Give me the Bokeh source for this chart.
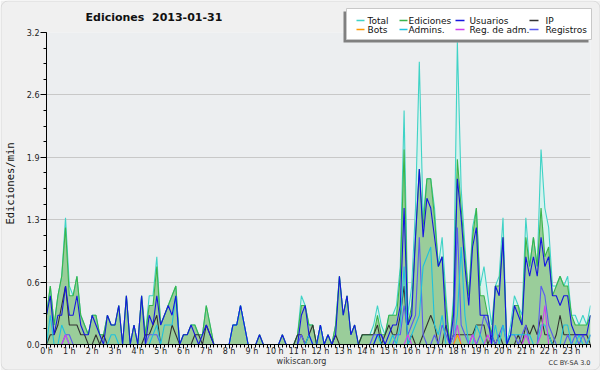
import math
from bokeh.plotting import figure
from bokeh.layouts import column
from bokeh.models import Range1d, FixedTicker, BoxAnnotation, ColumnDataSource, Plot
from bokeh.core.properties import value
from bokeh.embed import file_html
from bokeh.resources import INLINE

# ---------------- data (edits per minute, 10-minute bins, 2013-01-31) ----------------
bin_minutes = list(range(0, 1440, 10))
hour_ticks = list(range(24))
hour_labels = ["%d h" % h for h in hour_ticks]
y_ticks = [0.0, 0.64, 1.28, 1.92, 2.56, 3.2]
y_tick_labels = ["0.0", "0.6", "1.3", "1.9", "2.6", "3.2"]

total = [0.3,0.6,0.2,0.5,0.7,1.3,0.6,0.5,0.7,0.3,
         0.2,0.1,0.3,0.3,0.1,0.1,0.3,0.2,0.2,0.4,
         0.0,0.5,0.0,0.2,0.0,0.5,0.1,0.5,0.5,0.9,
         0.2,0.3,0.4,0.5,0.6,0.0,0.1,0.1,0.2,0.2,
         0.1,0.1,0.4,0.2,0.0,0.0,0.0,0.0,0.0,0.2,
         0.2,0.4,0.2,0.0,0.0,0.0,0.1,0.0,0.0,0.0,
         0.0,0.0,0.1,0.0,0.0,0.0,0.1,0.5,0.4,0.2,
         0.2,0.0,0.2,0.0,0.1,0.0,0.2,0.7,0.3,0.5,
         0.1,0.2,0.0,0.1,0.1,0.1,0.2,0.4,0.2,0.1,
         0.3,0.3,0.4,0.8,2.4,0.3,0.6,1.4,2.9,1.3,
         1.7,1.7,1.4,0.8,1.1,0.5,0.0,0.5,3.1,1.6,
         1.0,0.5,1.2,1.4,0.6,0.8,0.5,0.2,0.6,0.7,
         1.3,0.0,0.2,0.5,0.4,0.3,1.3,0.8,1.1,0.8,
         2.0,1.4,1.2,0.6,0.6,0.7,0.6,0.7,0.3,0.3,
         0.2,0.3,0.2,0.4]

ediciones = [0.3,0.6,0.2,0.5,0.7,1.2,0.5,0.5,0.7,0.3,
             0.2,0.1,0.3,0.3,0.1,0.1,0.3,0.2,0.2,0.4,
             0.0,0.5,0.0,0.2,0.0,0.5,0.1,0.4,0.4,0.8,
             0.2,0.3,0.4,0.5,0.6,0.0,0.1,0.1,0.2,0.2,
             0.1,0.1,0.4,0.2,0.0,0.0,0.0,0.0,0.0,0.2,
             0.2,0.4,0.2,0.0,0.0,0.0,0.1,0.0,0.0,0.0,
             0.0,0.0,0.1,0.0,0.0,0.0,0.1,0.4,0.4,0.2,
             0.2,0.0,0.2,0.0,0.1,0.0,0.2,0.7,0.3,0.5,
             0.1,0.2,0.0,0.1,0.1,0.1,0.1,0.3,0.1,0.1,
             0.3,0.3,0.3,0.7,2.0,0.2,0.4,1.1,1.8,1.2,
             1.7,1.7,1.3,0.8,0.9,0.4,0.0,0.4,1.9,1.4,
             0.9,0.5,1.1,1.4,0.5,0.5,0.3,0.1,0.6,0.6,
             1.1,0.0,0.1,0.4,0.4,0.2,1.1,0.8,1.1,0.8,
             1.4,0.9,1.0,0.5,0.6,0.7,0.6,0.6,0.3,0.2,
             0.2,0.2,0.2,0.3]

usuarios = [0.3,0.5,0.1,0.3,0.3,0.6,0.3,0.3,0.5,0.2,
            0.1,0.1,0.3,0.2,0.1,0.0,0.3,0.2,0.2,0.4,
            0.0,0.5,0.0,0.2,0.0,0.5,0.0,0.3,0.2,0.5,
            0.2,0.3,0.4,0.3,0.5,0.0,0.1,0.1,0.2,0.1,
            0.0,0.1,0.2,0.1,0.0,0.0,0.0,0.0,0.0,0.2,
            0.2,0.4,0.2,0.0,0.0,0.0,0.1,0.0,0.0,0.0,
            0.0,0.0,0.1,0.0,0.0,0.0,0.0,0.3,0.4,0.1,
            0.0,0.0,0.2,0.0,0.1,0.0,0.1,0.7,0.3,0.5,
            0.1,0.2,0.0,0.0,0.0,0.0,0.0,0.1,0.1,0.0,
            0.1,0.2,0.2,0.4,1.4,0.2,0.3,1.1,1.8,1.1,
            1.5,1.4,1.1,0.8,0.9,0.2,0.0,0.3,1.7,1.3,
            0.8,0.4,1.0,1.2,0.3,0.3,0.3,0.0,0.6,0.5,
            1.1,0.0,0.1,0.4,0.3,0.2,0.9,0.7,0.9,0.7,
            1.1,0.8,0.9,0.5,0.5,0.4,0.5,0.5,0.2,0.1,
            0.1,0.1,0.1,0.3]

ip = [0.0,0.1,0.1,0.2,0.4,0.6,0.2,0.2,0.2,0.1,
      0.1,0.0,0.0,0.1,0.0,0.1,0.0,0.0,0.0,0.0,
      0.0,0.0,0.0,0.0,0.0,0.0,0.1,0.1,0.2,0.3,
      0.0,0.0,0.0,0.2,0.1,0.0,0.0,0.0,0.0,0.1,
      0.1,0.0,0.2,0.1,0.0,0.0,0.0,0.0,0.0,0.0,
      0.0,0.0,0.0,0.0,0.0,0.0,0.0,0.0,0.0,0.0,
      0.0,0.0,0.0,0.0,0.0,0.0,0.1,0.1,0.0,0.1,
      0.2,0.0,0.0,0.0,0.0,0.0,0.1,0.0,0.0,0.0,
      0.0,0.0,0.0,0.1,0.1,0.1,0.1,0.2,0.0,0.1,
      0.2,0.1,0.1,0.3,0.6,0.0,0.1,0.0,0.0,0.1,
      0.2,0.3,0.2,0.0,0.0,0.2,0.0,0.1,0.1,0.1,
      0.1,0.1,0.1,0.2,0.2,0.2,0.0,0.1,0.0,0.1,
      0.0,0.0,0.0,0.0,0.1,0.0,0.2,0.1,0.2,0.1,
      0.3,0.1,0.1,0.0,0.1,0.3,0.1,0.1,0.1,0.1,
      0.1,0.1,0.1,0.0]

bots = [0.0,0.0,0.0,0.0,0.0,0.0,0.0,0.0,0.0,0.0,
        0.0,0.0,0.0,0.0,0.0,0.0,0.0,0.0,0.0,0.0,
        0.0,0.0,0.0,0.0,0.0,0.0,0.0,0.0,0.0,0.0,
        0.0,0.0,0.0,0.0,0.0,0.0,0.0,0.0,0.0,0.0,
        0.0,0.0,0.0,0.0,0.0,0.0,0.0,0.0,0.0,0.0,
        0.0,0.0,0.0,0.0,0.0,0.0,0.0,0.0,0.0,0.0,
        0.0,0.0,0.0,0.0,0.0,0.0,0.0,0.0,0.0,0.0,
        0.0,0.0,0.0,0.0,0.0,0.0,0.0,0.0,0.0,0.0,
        0.0,0.0,0.0,0.0,0.0,0.0,0.0,0.0,0.0,0.0,
        0.0,0.0,0.0,0.0,0.0,0.0,0.0,0.0,0.0,0.0,
        0.0,0.0,0.0,0.0,0.0,0.0,0.0,0.0,0.1,0.0,
        0.0,0.0,0.0,0.0,0.0,0.0,0.0,0.0,0.0,0.0,
        0.0,0.0,0.0,0.0,0.0,0.0,0.0,0.0,0.0,0.0,
        0.0,0.0,0.0,0.0,0.0,0.0,0.0,0.0,0.0,0.0,
        0.0,0.0,0.0,0.0]

admins = [0.0,0.3,0.0,0.0,0.2,0.1,0.0,0.0,0.0,0.0,
          0.0,0.0,0.0,0.0,0.0,0.0,0.0,0.1,0.1,0.0,
          0.0,0.0,0.0,0.0,0.0,0.0,0.0,0.0,0.1,0.2,
          0.0,0.2,0.2,0.2,0.5,0.0,0.0,0.0,0.0,0.0,
          0.0,0.0,0.0,0.0,0.0,0.0,0.0,0.0,0.0,0.2,
          0.2,0.4,0.2,0.0,0.0,0.0,0.0,0.0,0.0,0.0,
          0.0,0.0,0.0,0.0,0.0,0.0,0.0,0.0,0.0,0.1,
          0.0,0.0,0.2,0.0,0.0,0.0,0.0,0.0,0.0,0.0,
          0.0,0.0,0.0,0.0,0.0,0.0,0.0,0.1,0.0,0.0,
          0.0,0.1,0.0,0.2,0.8,0.0,0.1,0.2,0.3,0.8,
          0.9,1.0,0.2,0.1,0.3,0.0,0.0,0.0,0.3,1.0,
          0.3,0.0,0.0,0.2,0.1,0.0,0.0,0.0,0.2,0.0,
          0.2,0.0,0.1,0.1,0.1,0.1,0.1,0.1,0.0,0.0,
          0.2,0.2,0.1,0.0,0.0,0.0,0.2,0.2,0.0,0.0,
          0.1,0.0,0.0,0.1]

reg_adm = [0.0,0.0,0.0,0.0,0.0,0.1,0.0,0.0,0.0,0.0,
           0.0,0.0,0.0,0.0,0.0,0.0,0.0,0.0,0.0,0.0,
           0.0,0.0,0.0,0.0,0.0,0.0,0.0,0.0,0.0,0.0,
           0.0,0.0,0.0,0.0,0.0,0.0,0.0,0.0,0.0,0.0,
           0.0,0.0,0.0,0.0,0.0,0.0,0.0,0.0,0.0,0.0,
           0.0,0.0,0.0,0.0,0.0,0.0,0.0,0.0,0.0,0.0,
           0.0,0.0,0.0,0.0,0.0,0.0,0.0,0.0,0.0,0.0,
           0.0,0.0,0.0,0.0,0.0,0.0,0.0,0.0,0.0,0.0,
           0.0,0.0,0.0,0.0,0.0,0.0,0.0,0.0,0.0,0.0,
           0.0,0.0,0.0,0.0,0.0,0.1,0.0,0.0,0.0,0.0,
           0.0,0.0,0.0,0.0,0.0,0.0,0.0,0.0,0.2,0.0,
           0.0,0.0,0.1,0.0,0.0,0.0,0.1,0.0,0.0,0.0,
           0.0,0.0,0.0,0.0,0.0,0.0,0.1,0.0,0.0,0.0,
           0.1,0.4,0.0,0.0,0.0,0.0,0.0,0.0,0.0,0.0,
           0.0,0.0,0.0,0.0]

registros = [0.0,0.0,0.0,0.0,0.0,0.1,0.1,0.0,0.0,0.0,
             0.0,0.0,0.0,0.0,0.0,0.0,0.0,0.0,0.0,0.0,
             0.0,0.0,0.0,0.0,0.0,0.0,0.0,0.1,0.1,0.1,
             0.0,0.0,0.0,0.0,0.0,0.0,0.0,0.0,0.0,0.0,
             0.0,0.0,0.0,0.0,0.0,0.0,0.0,0.0,0.0,0.0,
             0.0,0.0,0.0,0.0,0.0,0.0,0.0,0.0,0.0,0.0,
             0.0,0.0,0.0,0.0,0.0,0.0,0.0,0.1,0.0,0.0,
             0.0,0.0,0.0,0.0,0.0,0.0,0.0,0.0,0.0,0.0,
             0.0,0.0,0.0,0.0,0.0,0.0,0.1,0.1,0.1,0.0,
             0.0,0.0,0.1,0.1,0.4,0.1,0.2,0.3,1.1,0.1,
             0.0,0.0,0.1,0.0,0.2,0.1,0.0,0.1,1.2,0.2,
             0.1,0.0,0.1,0.0,0.1,0.3,0.2,0.1,0.0,0.1,
             0.2,0.0,0.1,0.1,0.0,0.1,0.2,0.0,0.0,0.0,
             0.6,0.5,0.2,0.1,0.0,0.0,0.0,0.1,0.0,0.1,
             0.0,0.1,0.0,0.1]

legend_names = ["Total", "Bots", "Ediciones", "Admins.", "Usuarios", "Reg. de adm.", "IP", "Registros"]
colors = {"Total": "#3fd3c6", "Ediciones": "#3bb54a", "Usuarios": "#1515e0", "IP": "#333333",
          "Bots": "#ff9900", "Admins.": "#1fc1dd", "Reg. de adm.": "#d040f0", "Registros": "#5a5af0"}

W, H = 600, 370

# ---------------- main chart ----------------
hours = [m / 60.0 for m in bin_minutes]
src = ColumnDataSource(dict(x=hours, total=total, ediciones=ediciones, usuarios=usuarios, ip=ip,
                            bots=bots, admins=admins, reg_adm=reg_adm, registros=registros))

p = figure(width=W, height=H, output_backend="svg", toolbar_location=None,
           x_range=Range1d(0, hours[-1]), y_range=Range1d(0, 3.2),
           min_border_left=46, min_border_right=10, min_border_top=32, min_border_bottom=26)
p.background_fill_color = "#eceef0"
p.border_fill_color = "#f0f0f0"
p.outline_line_color = None

xt = FixedTicker(ticks=hour_ticks, minor_ticks=hours)
p.xaxis.ticker = xt
p.xaxis.major_label_overrides = {h: lab for h, lab in zip(hour_ticks, hour_labels)}
yt = FixedTicker(ticks=y_ticks, minor_ticks=[k * 0.16 for k in range(21)])
p.yaxis.ticker = yt
p.yaxis.major_label_overrides = {v: lab for v, lab in zip(y_ticks, y_tick_labels)}
p.ygrid.ticker = yt
p.xgrid.grid_line_color = None
p.ygrid.grid_line_color = "#c8c8c8"
for ax in (p.xaxis[0], p.yaxis[0]):
    ax.axis_line_color = "black"
    ax.major_tick_line_color = "black"
    ax.minor_tick_line_color = "black"
    ax.major_tick_in = 0
    ax.minor_tick_in = 0
    ax.major_label_text_font = "DejaVu Sans"
    ax.major_label_text_font_size = "8px"
    ax.major_label_text_color = "#222222"
p.xaxis.major_tick_out = 4
p.xaxis.minor_tick_out = 3
p.xaxis.major_label_standoff = -2
p.yaxis.major_tick_out = 6
p.yaxis.minor_tick_out = 3
p.yaxis.major_label_standoff = 1

p.varea(x="x", y1=0, y2="total", source=src, fill_color="#d6f2ee")
p.varea(x="x", y1=0, y2="ediciones", source=src, fill_color="#9acd9a")
lw = 1.1
p.line("x", "total", source=src, line_color=colors["Total"], line_width=lw)
p.line("x", "ediciones", source=src, line_color=colors["Ediciones"], line_width=lw)
p.line("x", "ip", source=src, line_color=colors["IP"], line_width=lw)
p.line("x", "registros", source=src, line_color=colors["Registros"], line_width=lw)
p.line("x", "admins", source=src, line_color=colors["Admins."], line_width=lw)
p.line("x", "reg_adm", source=src, line_color=colors["Reg. de adm."], line_width=lw)
p.line("x", "bots", source=src, line_color=colors["Bots"], line_width=lw)
p.line("x", "usuarios", source=src, line_color=colors["Usuarios"], line_width=lw)

# ---------------- transparent overlay (pixel coordinates) for frame texts, legend, border ----------------
ov = figure(width=W, height=H, output_backend="svg", toolbar_location=None,
            x_range=Range1d(0, W), y_range=Range1d(H, 0), x_axis_type=None, y_axis_type=None,
            min_border=0, margin=(-H, 0, 0, 0))
if "frame_align" in Plot.properties():
    p.frame_align = False
    ov.frame_align = False
ov.background_fill_alpha = 0
ov.border_fill_alpha = 0
ov.outline_line_color = None
ov.xgrid.visible = False
ov.ygrid.visible = False

ov.add_layout(BoxAnnotation(left=0.5, right=W - 0.5, top=0.5, bottom=H - 0.5, fill_alpha=0,
                            line_color="#a8a8a8", line_width=1, border_radius=7))

ov.text(x=[85], y=[16.5], text=["Ediciones \u00a02013-01-31"], text_font=value("DejaVu Sans"),
        text_font_size="11px", text_font_style="bold", text_color="#111111",
        text_baseline="middle", text_align="left")
ov.text(x=[9], y=[183], text=["Ediciones/min"], angle=math.pi / 2, text_font=value("DejaVu Sans Mono"),
        text_font_size="10.5px", text_color="#111111", text_baseline="middle", text_align="center")
ov.text(x=[301], y=[361], text=["wikiscan.org"], text_font=value("DejaVu Sans"), text_font_size="8px",
        text_color="#333333", text_baseline="middle", text_align="center")
ov.text(x=[590], y=[362], text=["CC BY-SA 3.0"], text_font=value("DejaVu Sans"), text_font_size="6.5px",
        text_color="#333333", text_baseline="middle", text_align="right")

# legend box with shadow
ov.quad(left=[343], right=[588], top=[11], bottom=[42], fill_color="#808080", line_alpha=0)
ov.quad(left=[346], right=[591], top=[8], bottom=[39], fill_color="white", line_color="#c8c8c8", line_width=1)
sample_x0 = [356, 356, 399, 399, 455, 455, 529, 529]
sample_x1 = [364, 364, 407, 407, 464, 464, 538, 538]
text_x = [367, 367, 408, 408, 469, 469, 545, 545]
row_y = [20, 29, 20, 29, 20, 29, 20, 29]
leg_src = ColumnDataSource(dict(x0=sample_x0, x1=sample_x1, y=row_y, tx=text_x, name=legend_names,
                                color=[colors[n] for n in legend_names]))
ov.segment(x0="x0", y0="y", x1="x1", y1="y", source=leg_src, line_color="color", line_width=1.6)
ov.text(x="tx", y="y", text="name", source=leg_src, text_font=value("DejaVu Sans"), text_font_size="9px",
        text_color="#111111", text_baseline="middle", text_align="left")

layout = column(p, ov, spacing=0)
open("out.html", "w").write(file_html(layout, INLINE))
